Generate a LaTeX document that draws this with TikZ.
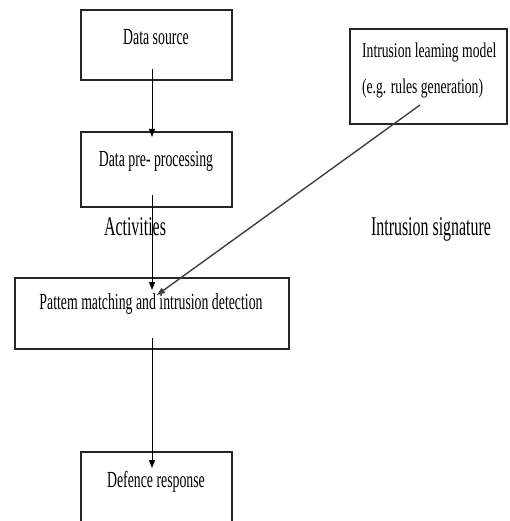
\documentclass[tikz,border=0pt]{standalone}
\usepackage{fontspec}
\setmainfont{Liberation Serif}
\usetikzlibrary{arrows.meta}
\begin{document}
\begin{tikzpicture}[x=1pt,y=-1pt,
  box/.style={draw=black!85, line width=1.8pt, inner sep=0pt},
  txt/.style={font=\fontsize{23}{26}\selectfont, xscale=0.6, inner sep=0pt, anchor=base},
  ltxt/.style={font=\fontsize{21}{24}\selectfont, xscale=0.65, inner sep=0pt, anchor=base west},
  big/.style={font=\fontsize{27}{30}\selectfont, xscale=0.59, inner sep=0pt, anchor=base},
  arr/.style={line width=1pt, -{Triangle[length=8pt,width=6pt]}}]
\useasboundingbox (0,0) rectangle (509,521);
\clip (0,0) rectangle (509,521);
% boxes
\node[box, minimum width=151pt, minimum height=70pt] (ds) at (156.5,45) {};
\node[box, minimum width=151pt, minimum height=75pt] (pp) at (156.5,169.5) {};
\node[box, minimum width=274pt, minimum height=71pt] (pm) at (152,313.5) {};
\node[box, minimum width=151pt, minimum height=108pt] (dr) at (156.5,506) {};
\node[box, minimum width=157pt, minimum height=95pt] (ilm) at (428.5,76.5) {};
% texts
\node[txt] (tds) at (156,45) {Data source};
\node[txt] (tpp) at (156,167) {Data pre- processing};
\node[txt] (tpm) at (151,309) {Pattem matching and intrusion detection};
\node[txt] (tdr) at (156,487) {Defence response};
\node[ltxt] (til1) at (362,58) {Intrusion leaming model};
\node[ltxt] (til2) at (362,94) {(e.g. rules generation)};
\node[big] (act) at (135,235) {Activities};
\node[big] (sig) at (431,235) {Intrusion signature};
% connector ends
\coordinate (c1) at (152,69);
\coordinate (c2) at (152,137);
\coordinate (c3) at (152,195);
\coordinate (c4) at (152,290);
\coordinate (c5) at (152,338);
\coordinate (c6) at (152,468);
\coordinate (c7) at (420,105);
\coordinate (c8) at (157,295);
\draw[arr] (c1) -- (c2);
\draw[arr] (c3) -- (c4);
\draw[arr] (c5) -- (c6);
\draw[arr, draw=black!75, line width=1.4pt] (c7) -- (c8);
\end{tikzpicture}
\end{document}
